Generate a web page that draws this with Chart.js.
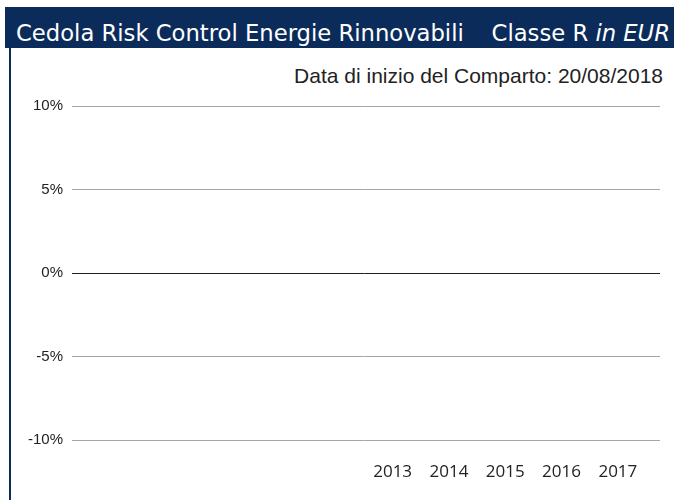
<!DOCTYPE html>
<html>
<head>
<meta charset="utf-8">
<script src="https://cdn.jsdelivr.net/npm/chart.js@4/dist/chart.umd.min.js"></script>
<style>
  html, body { margin: 0; padding: 0; background: #fff; }
  .wrap { position: relative; width: 674px; height: 500px; overflow: hidden; }
  .header {
    position: absolute; left: 5px; top: 7px; width: 669px; height: 41px;
    background: #0b2c5b; color: #fff;
    font-family: "DejaVu Sans", sans-serif; font-size: 22.7px; line-height: 41px;
    white-space: nowrap;
  }
  .header .name { position: absolute; left: 11px; top: 6px; }
  .header .cls { position: absolute; right: 4px; top: 6px; }
  .leftbar { position: absolute; left: 9px; top: 48px; width: 2px; height: 452px; background: #0b2c5b; }
  .sub {
    position: absolute; right: 11px; top: 64px;
    font-family: "Liberation Sans", Arial, sans-serif; font-size: 21px; color: #222;
    white-space: nowrap;
  }
  canvas { position: absolute; left: 0; top: 0; }
</style>
</head>
<body>
<div class="wrap">
  <div class="header"><span class="name">Cedola Risk Control Energie Rinnovabili</span><span class="cls">Classe R <i>in EUR</i></span></div>
  <div class="leftbar"></div>
  <div class="sub">Data di inizio del Comparto: 20/08/2018</div>
  <canvas id="c" width="674" height="500"></canvas>
</div>
<script>
// anni (i primi cinque senza etichetta)
const categories = ['', '', '', '', '', '2013', '2014', '2015', '2016', '2017'];
// rendimenti annui del comparto: nessun dato (comparto avviato nel 2018)
const fundReturns = [null, null, null, null, null, null, null, null, null, null];
const yTicks = [-10, -5, 0, 5, 10];

const gridColor = (ctx) => (ctx.tick && ctx.tick.value === 0 ? '#222' : '#a6a6a6');

const chart = new Chart(document.getElementById('c'), {
  type: 'bar',
  data: {
    labels: categories,
    datasets: [{ label: 'Comparto', data: fundReturns, backgroundColor: '#0b2c5b' }]
  },
  options: {
    responsive: false,
    animation: false,
    layout: { padding: { top: 106, right: 14, bottom: 0, left: 0 } },
    plugins: { legend: { display: false }, tooltip: { enabled: false } },
    scales: {
      x: {
        grid: { display: false, drawTicks: false },
        border: { display: false },
        ticks: {
          padding: 22,
          color: '#222',
          font: { family: 'Open Sans', size: 17 },
          maxRotation: 0, autoSkip: false
        },
        afterFit: (s) => { s.height = 60; }
      },
      y: {
        min: yTicks[0], max: yTicks[yTicks.length - 1],
        afterBuildTicks: (s) => { s.ticks = yTicks.map(v => ({ value: v })); },
        grid: { color: gridColor, tickColor: gridColor, drawTicks: true, tickLength: 11 },
        border: { display: false },
        ticks: {
          padding: 9,
          color: '#222',
          font: { family: 'Liberation Sans', size: 15 },
          callback: (v) => v + '%'
        },
        afterFit: (s) => { s.width = 83; }
      },
      y2: {
        position: 'right',
        min: yTicks[0], max: yTicks[yTicks.length - 1],
        afterBuildTicks: (s) => { s.ticks = yTicks.map(v => ({ value: v })); },
        grid: { color: gridColor, tickColor: gridColor, drawOnChartArea: false, drawTicks: true, tickLength: 14 },
        border: { display: false },
        ticks: { display: false },
        afterFit: (s) => { s.width = 14; }
      }
    }
  }
});
</script>
</body>
</html>
